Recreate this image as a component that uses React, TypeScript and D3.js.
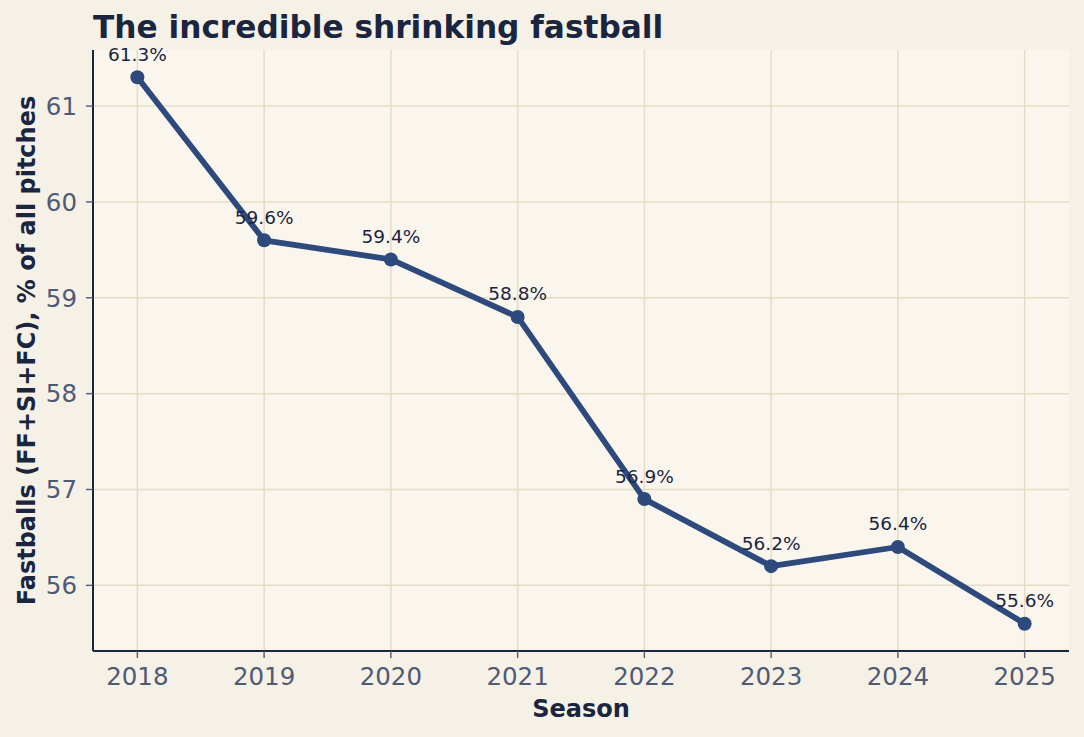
import * as d3 from "d3";

// Fastball share by season
const seasons = [2018, 2019, 2020, 2021, 2022, 2023, 2024, 2025];
const fastballPct = [61.3, 59.6, 59.4, 58.8, 56.9, 56.2, 56.4, 55.6];
const yTicks = [56, 57, 58, 59, 60, 61];

const W = 1084;
const H = 737;
const margin = { top: 50, right: 15, bottom: 86, left: 93 };
const innerW = W - margin.left - margin.right;
const innerH = H - margin.top - margin.bottom;

const FONT = "'DejaVu Sans', sans-serif";
const INK = "#1a2540";
const TICK = "#4f5a75";
const LINE = "#2e4a7c";
const GRID = "#e4dcc6";

export default function App() {
  const x = d3.scaleLinear().domain([2017.65, 2025.35]).range([0, innerW]);
  const yMin = d3.min(fastballPct)!;
  const yMax = d3.max(fastballPct)!;
  const pad = (yMax - yMin) * 0.05;
  const y = d3.scaleLinear().domain([yMin - pad, yMax + pad]).range([innerH, 0]);

  const pts = seasons.map((s, i) => ({ s, v: fastballPct[i] }));
  const line = d3
    .line<{ s: number; v: number }>()
    .x((d) => x(d.s))
    .y((d) => y(d.v));

  return (
    <svg
      width={W}
      height={H}
      style={{ position: "absolute", left: 0, top: 0, display: "block" }}
      fontFamily={FONT}
    >
      <rect width={W} height={H} fill="#f5f1e7" />
      <text x={margin.left} y={38} fontSize={31.2} fontWeight="bold" fill={INK}>
        The incredible shrinking fastball
      </text>
      <g transform={`translate(${margin.left},${margin.top})`}>
        <rect width={innerW} height={innerH} fill="#faf6ee" />
        {/* grid */}
        {seasons.map((s) => (
          <line key={`gx${s}`} x1={x(s)} x2={x(s)} y1={0} y2={innerH} stroke={GRID} strokeWidth={1.5} />
        ))}
        {yTicks.map((t) => (
          <line key={`gy${t}`} x1={0} x2={innerW} y1={y(t)} y2={y(t)} stroke={GRID} strokeWidth={1.5} />
        ))}
        {/* series */}
        <path d={line(pts)!} fill="none" stroke={LINE} strokeWidth={5.8} strokeLinejoin="round" strokeLinecap="round" />
        {pts.map((d) => (
          <circle key={`p${d.s}`} cx={x(d.s)} cy={y(d.v)} r={7} fill={LINE} />
        ))}
        {pts.map((d) => (
          <text
            key={`l${d.s}`}
            x={x(d.s)}
            y={y(d.v) - 16.5}
            textAnchor="middle"
            fontSize={18.5}
            fill={INK}
          >
            {`${d.v.toFixed(1)}%`}
          </text>
        ))}
        {/* axes */}
        <line x1={0} x2={0} y1={0} y2={innerH} stroke={INK} strokeWidth={2} />
        <line x1={0} x2={innerW} y1={innerH} y2={innerH} stroke={INK} strokeWidth={2} />
        {seasons.map((s) => (
          <g key={`tx${s}`}>
            <line x1={x(s)} x2={x(s)} y1={innerH} y2={innerH + 7} stroke={TICK} strokeWidth={1.4} />
            <text x={x(s)} y={innerH + 34} textAnchor="middle" fontSize={24.5} fill={TICK}>
              {s}
            </text>
          </g>
        ))}
        {yTicks.map((t) => (
          <g key={`ty${t}`}>
            <line x1={-7} x2={0} y1={y(t)} y2={y(t)} stroke={TICK} strokeWidth={1.4} />
            <text x={-16} y={y(t)} dy="0.36em" textAnchor="end" fontSize={24.5} fill={TICK}>
              {t}
            </text>
          </g>
        ))}
        <text x={innerW / 2} y={innerH + 66} textAnchor="middle" fontSize={24} fontWeight="bold" fill={INK}>
          Season
        </text>
        <text
          transform={`translate(${-58},${innerH / 2}) rotate(-90)`}
          textAnchor="middle"
          fontSize={24}
          fontWeight="bold"
          fill={INK}
        >
          Fastballs (FF+SI+FC), % of all pitches
        </text>
      </g>
    </svg>
  );
}
